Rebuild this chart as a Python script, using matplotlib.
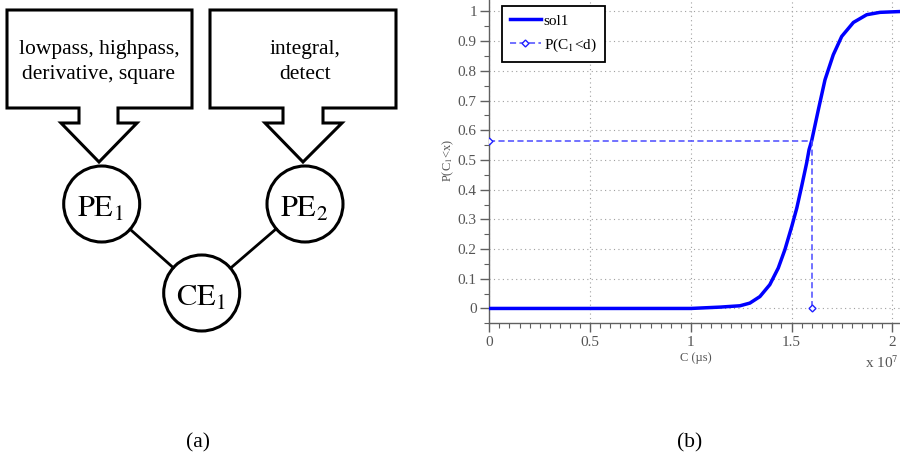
import matplotlib
matplotlib.use("Agg")
import matplotlib.pyplot as plt
from matplotlib.patches import Polygon, Circle
from matplotlib.ticker import MultipleLocator
import math

plt.rcParams['font.family'] = ['Liberation Serif', 'DejaVu Serif']
plt.rcParams['mathtext.fontset'] = 'stix'

# ---- data (x in units of 1e7) ----
c_vals = [0.0, 1.0, 1.145, 1.244, 1.293, 1.343, 1.392, 1.434, 1.467, 1.501, 1.526, 1.550,
          1.575, 1.587, 1.600, 1.633, 1.666, 1.707, 1.749, 1.807, 1.873, 1.939, 2.05]
p_vals = [0.0, 0.0, 0.0045, 0.009, 0.018, 0.040, 0.080, 0.136, 0.198, 0.276, 0.338, 0.411,
          0.490, 0.535, 0.565, 0.669, 0.770, 0.854, 0.916, 0.963, 0.989, 0.997, 1.0]
d_value = 1.60
p_at_d = 0.565

box_texts = ["lowpass, highpass,\nderivative, square", "integral,\ndetect"]
node_labels = [r"$\mathrm{PE}_1$", r"$\mathrm{PE}_2$", r"$\mathrm{CE}_1$"]

W, H = 900, 459
fig = plt.figure(figsize=(9, 4.59), dpi=100)

# ---- left diagram (pixel coordinates) ----
ax0 = fig.add_axes([0, 0, 1, 1])
ax0.set_xlim(0, W)
ax0.set_ylim(H, 0)
ax0.axis('off')

def callout(x0, x1, y0, y1, s0, s1, h0, h1, tip, ty):
    pts = [(x0, y0), (x1, y0), (x1, y1), (s1, y1), (s1, ty - 39), (h1, ty - 39),
           (tip, ty), (h0, ty - 39), (s0, ty - 39), (s0, y1), (x0, y1)]
    ax0.add_patch(Polygon(pts, closed=True, fill=False, ec='black', lw=2.2, joinstyle='miter'))

callout(7, 192, 10, 108, 79, 118, 61, 137, 99, 162)
callout(210, 396, 10, 108, 283, 323, 265, 342, 303, 162)

for cx, txt in [(99, box_texts[0]), (305, box_texts[1])]:
    l1, l2 = txt.split("\n")
    ax0.text(cx, 54, l1, ha='center', va='baseline', fontsize=15.5)
    ax0.text(cx, 79, l2, ha='center', va='baseline', fontsize=15.5)

centers = [(101.7, 204), (305, 204), (201.7, 293)]
r = 38
for (cx, cy) in centers[:2]:
    ex, ey = centers[2]
    dx, dy = ex - cx, ey - cy
    L = math.hypot(dx, dy)
    ux, uy = dx / L, dy / L
    ax0.plot([cx + ux * r, ex - ux * r], [cy + uy * r, ey - uy * r], color='black', lw=2)
for (cx, cy), lab in zip(centers, node_labels):
    ax0.add_patch(Circle((cx, cy), r, fill=False, ec='black', lw=2.2))
    ax0.text(cx - 1, cy + 13, lab, ha='center', va='baseline', fontsize=22)

ax0.text(198, 447, "(a)", ha='center', va='baseline', fontsize=15.5)
ax0.text(690, 447, "(b)", ha='center', va='baseline', fontsize=15.5)

# ---- right plot ----
xl, xr = 0.0, 2.05
yb, yt = -0.05, 1.05
left_px, bottom_px = 489.3, 323.3
ppx, ppy = 201.5, 297.0
ax = fig.add_axes([left_px / W, (H - bottom_px) / H, (xr - xl) * ppx / W, (yt - yb) * ppy / H])
ax.set_xlim(xl, xr)
ax.set_ylim(yb, yt)

ax.plot(c_vals, p_vals, color='#0000ff', lw=2.5, label='sol1', zorder=3,
        solid_joinstyle='round')
ax.plot([0, d_value, d_value], [p_at_d, p_at_d, 0], color='#4a4aff', lw=1.1,
        dashes=(4, 2.2), marker='D', markersize=3.5, markerfacecolor='white',
        markeredgecolor='#2020ff', markeredgewidth=1.0, markevery=[0, 2],
        label=r'P(C$_1$<d)', zorder=4)

ax.xaxis.set_minor_locator(MultipleLocator(0.05))
ax.yaxis.set_minor_locator(MultipleLocator(0.05))
ax.set_xticks([0, 0.5, 1, 1.5, 2])
ax.set_xticklabels(['0', '0.5', '1', '1.5', '2'])
ax.set_yticks([0, 0.1, 0.2, 0.3, 0.4, 0.5, 0.6, 0.7, 0.8, 0.9, 1.0])
ax.set_yticklabels(['0', '0.1', '0.2', '0.3', '0.4', '0.5', '0.6', '0.7', '0.8', '0.9', '1'])

gray = '#606060'
for s in ['top', 'right']:
    ax.spines[s].set_visible(False)
for s in ['left', 'bottom']:
    ax.spines[s].set_color(gray)
    ax.spines[s].set_linewidth(1.0)
ax.tick_params(which='major', direction='out', length=6.5, width=1.0, color=gray,
               labelcolor='#555555', labelsize=11)
ax.tick_params(which='minor', direction='out', length=3.5, width=0.8, color=gray)
ax.tick_params(axis='y', pad=2.5)
ax.tick_params(axis='x', pad=2.5)
ax.grid(True, which='major', linestyle=(0, (1, 3)), color='#a0a0a0', lw=0.8)

ax.set_xlabel(u'C (\u00b5s)', fontsize=9, color='#555555', labelpad=2)
ax.set_ylabel(r'P(C$_1$<x)', fontsize=9, color='#555555', labelpad=1)

fig.text(898.5 / W, (H - 368) / H, r'x 10$^7$', fontsize=11, color='#555555',
         ha='right', va='baseline')

leg = ax.legend(loc='upper left', bbox_to_anchor=(501.7 / W, 1 - 5.7 / H),
                bbox_transform=fig.transFigure, borderaxespad=0, fancybox=False,
                framealpha=1, edgecolor='black', fontsize=11, handlelength=2.0,
                handletextpad=0.2, borderpad=0.55, labelspacing=0.55)
leg.get_frame().set_linewidth(1.3)

fig.savefig('out.png', dpi=100)
